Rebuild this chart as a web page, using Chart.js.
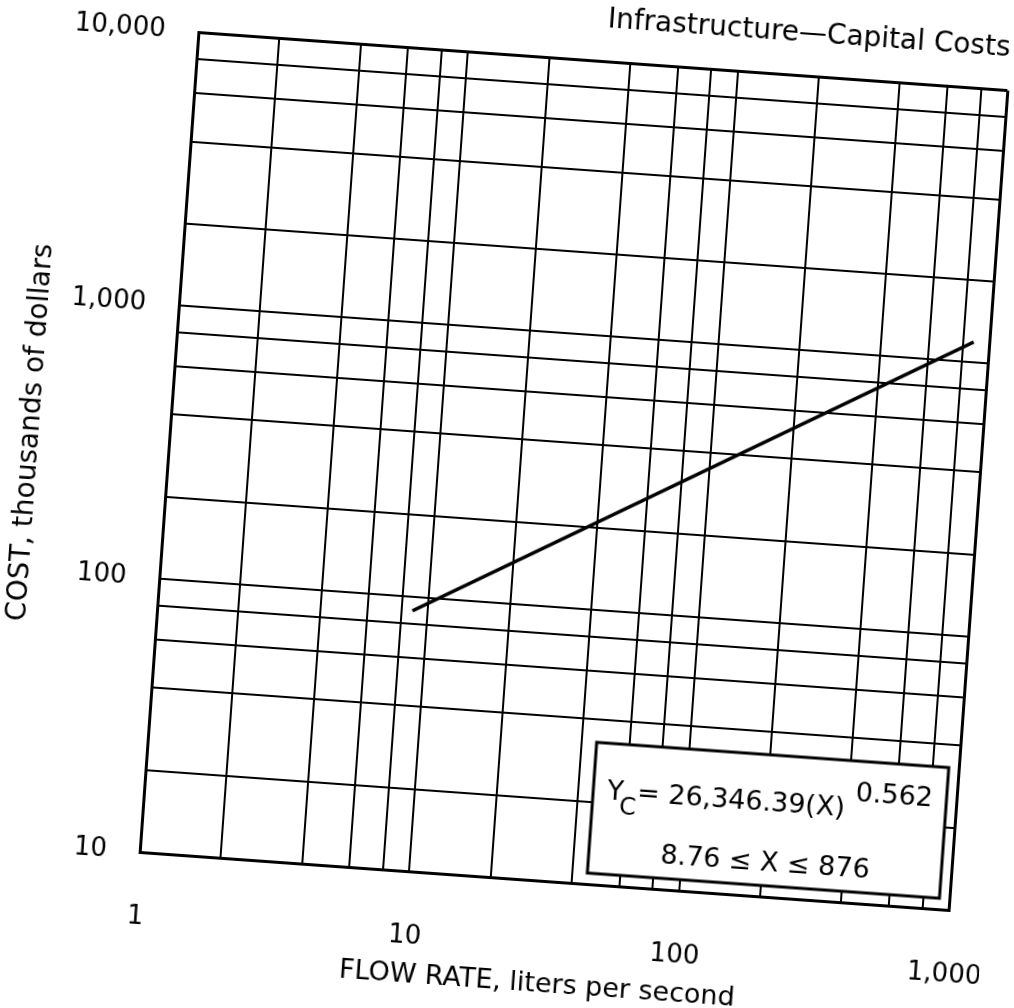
<!DOCTYPE html>
<html>
<head>
<meta charset="utf-8">
<script src="https://cdn.jsdelivr.net/npm/chart.js@4/dist/chart.umd.min.js"></script>
<style>
    html, body { margin: 0; padding: 0; background: #fff; overflow: hidden; }
    #costChart {
        position: absolute; left: 0; top: 0;
        /* the scanned sheet is a little turned */
        transform-origin: 573.5px 471.5px;
        transform: rotate(4.1deg);
    }
</style>
</head>
<body>
<canvas id="costChart" width="1014" height="1008"></canvas>
<script>
// Linea de costo
const flowRates = [8.76, 876];
const costs = [89, 1190];

// Lineas de la reticula y etiquetas
const xGridValues = [1, 2, 4, 6, 8, 10, 20, 40, 60, 80, 100, 200, 400, 600, 800, 1000];
const yGridValues = [10, 20, 40, 60, 80, 100, 200, 400, 600, 800, 1000, 2000, 4000, 6000, 8000, 10000];
const xTickValues = [1, 10, 100, 1000];
const xTickLabels = ['1', '10', '100', '1,000'];
const yTickValues = [10, 100, 1000, 10000];
const yTickLabels = ['10', '100', '1,000', '10,000'];

const titleText = 'Infrastructure—Capital Costs';
const xTitle = 'FLOW RATE, liters per second';
const yTitle = 'COST, thousands of dollars';
const eqMain = '= 26,346.39(X)';
const eqExp = '0.562';
const eqRange = '8.76 \u2264 X \u2264 876';

const FONT = 'DejaVu Sans';

const equationBox = {
    id: 'equationBox',
    afterDraw(chart) {
        const ctx = chart.ctx;
        const area = chart.chartArea;
        const w = 353, h = 131;
        const left = area.right - 10 - w;
        const top = area.bottom - 11 - h;
        ctx.save();
        ctx.fillStyle = '#fff';
        ctx.fillRect(left, top, w, h);
        ctx.strokeStyle = '#000';
        ctx.lineWidth = 3;
        ctx.strokeRect(left, top, w, h);

        ctx.fillStyle = '#000';
        ctx.textBaseline = 'alphabetic';
        ctx.textAlign = 'left';
        ctx.font = '27px "' + FONT + '"';
        ctx.fillText('Y', left + 14, top + 56);
        ctx.font = '24px "' + FONT + '"';
        ctx.fillText('C', left + 27, top + 70);
        ctx.font = '27px "' + FONT + '"';
        ctx.fillText(eqMain, left + 44, top + 56);
        ctx.fillText(eqExp, left + 262, top + 40);
        ctx.textAlign = 'center';
        ctx.fillText(eqRange, left + w / 2, top + 116);
        ctx.restore();
    }
};

function gridWidth(c) {
    const s = c.scale;
    return (c.tick && (c.tick.value === s.min || c.tick.value === s.max)) ? 3 : 2;
}

const ctx = document.getElementById('costChart').getContext('2d');
const costChart = new Chart(ctx, {
    type: 'scatter',
    data: {
        datasets: [{
            data: flowRates.map((x, i) => ({ x: x, y: costs[i] })),
            showLine: true,
            borderColor: '#000',
            borderWidth: 3.5,
            pointRadius: 0,
            fill: false
        }]
    },
    options: {
        responsive: false,
        animation: false,
        layout: { padding: { left: 0, right: 35, top: 0, bottom: 0 } },
        plugins: {
            legend: { display: false },
            tooltip: { enabled: false },
            title: {
                display: true,
                text: titleText,
                align: 'end',
                color: '#000',
                font: { family: FONT, size: 28, weight: 'normal' },
                padding: { top: 2, bottom: 25 }
            }
        },
        scales: {
            x: {
                type: 'logarithmic',
                min: 1,
                max: 1000,
                afterBuildTicks: (scale) => { scale.ticks = xGridValues.map(v => ({ value: v })); },
                afterFit: (scale) => {
                    scale.height = 126;
                    scale.paddingLeft = 0;
                    scale.paddingRight = 0;
                },
                grid: { color: '#000', lineWidth: gridWidth, drawTicks: false },
                border: { display: true, color: '#000', width: 3 },
                ticks: {
                    autoSkip: false,
                    maxRotation: 0,
                    padding: 50,
                    color: '#000',
                    font: { family: FONT, size: 26 },
                    callback: (v) => {
                        const i = xTickValues.indexOf(v);
                        return i >= 0 ? xTickLabels[i] : '';
                    }
                },
                title: {
                    display: true,
                    text: xTitle,
                    color: '#000',
                    font: { family: FONT, size: 27 },
                    padding: { top: 0, bottom: 6 }
                }
            },
            y: {
                type: 'logarithmic',
                min: 10,
                max: 10000,
                afterBuildTicks: (scale) => { scale.ticks = yGridValues.map(v => ({ value: v })); },
                afterFit: (scale) => {
                    scale.width = 168;
                    scale.paddingTop = 0;
                    scale.paddingBottom = 0;
                },
                grid: { color: '#000', lineWidth: gridWidth, drawTicks: false },
                border: { display: true, color: '#000', width: 3 },
                ticks: {
                    autoSkip: false,
                    padding: 33,
                    color: '#000',
                    font: { family: FONT, size: 26 },
                    callback: (v) => {
                        const i = yTickValues.indexOf(v);
                        return i >= 0 ? yTickLabels[i] : '';
                    }
                },
                title: {
                    display: true,
                    text: yTitle,
                    color: '#000',
                    font: { family: FONT, size: 28 },
                    padding: { top: 13, bottom: 0 }
                }
            }
        }
    },
    plugins: [equationBox]
});
</script>
</body>
</html>
